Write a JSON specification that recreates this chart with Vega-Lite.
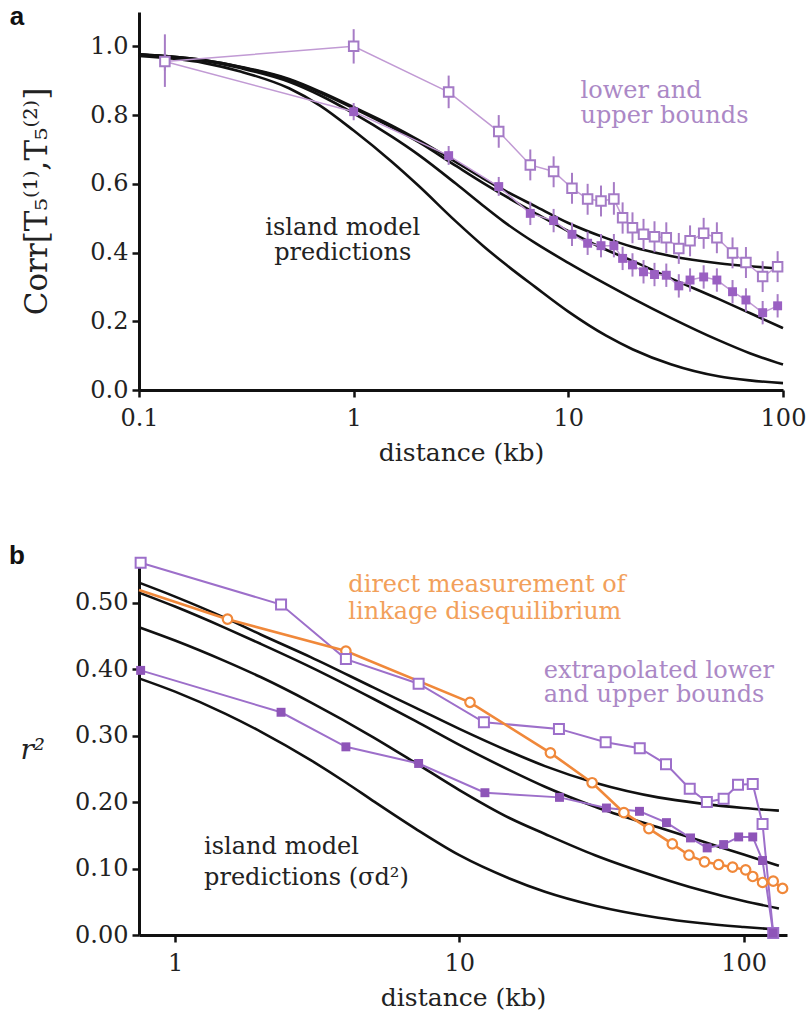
{
  "$schema": "https://vega.github.io/schema/vega-lite/v6.json",
  "background": "white",
  "padding": {"left": 8, "top": 4, "right": 5, "bottom": 2},
  "spacing": 78,
  "config": {
    "view": {"stroke": null},
    "font": "DejaVu Serif",
    "axis": {"grid": false, "domainColor": "#111", "domainWidth": 3, "tickColor": "#111", "tickWidth": 2.5, "tickSize": 7, "labelFont": "DejaVu Serif", "labelFontSize": 24, "labelColor": "#222", "labelPadding": 4, "titleFont": "DejaVu Serif", "titleFontSize": 25, "titleFontWeight": "normal", "titleColor": "#222"}
  },
  "datasets": {
    "curvesA": [
      {"model": "m1", "distance": 0.1, "value": 0.977}, {"model": "m1", "distance": 0.2, "value": 0.96}, {"model": "m1", "distance": 0.3, "value": 0.94}, {"model": "m1", "distance": 0.5, "value": 0.905}, {"model": "m1", "distance": 0.7, "value": 0.868}, {"model": "m1", "distance": 1, "value": 0.823}, {"model": "m1", "distance": 1.5, "value": 0.77}, {"model": "m1", "distance": 2, "value": 0.728}, {"model": "m1", "distance": 3, "value": 0.663}, {"model": "m1", "distance": 4, "value": 0.616}, {"model": "m1", "distance": 5, "value": 0.582}, {"model": "m1", "distance": 7, "value": 0.535}, {"model": "m1", "distance": 10, "value": 0.486}, {"model": "m1", "distance": 15, "value": 0.442}, {"model": "m1", "distance": 20, "value": 0.416}, {"model": "m1", "distance": 30, "value": 0.39}, {"model": "m1", "distance": 50, "value": 0.369}, {"model": "m1", "distance": 70, "value": 0.36}, {"model": "m1", "distance": 100, "value": 0.353},
      {"model": "m2", "distance": 0.1, "value": 0.977}, {"model": "m2", "distance": 0.2, "value": 0.96}, {"model": "m2", "distance": 0.3, "value": 0.939}, {"model": "m2", "distance": 0.5, "value": 0.903}, {"model": "m2", "distance": 0.7, "value": 0.865}, {"model": "m2", "distance": 1, "value": 0.82}, {"model": "m2", "distance": 1.5, "value": 0.765}, {"model": "m2", "distance": 2, "value": 0.722}, {"model": "m2", "distance": 3, "value": 0.652}, {"model": "m2", "distance": 4, "value": 0.603}, {"model": "m2", "distance": 5, "value": 0.567}, {"model": "m2", "distance": 7, "value": 0.515}, {"model": "m2", "distance": 10, "value": 0.462}, {"model": "m2", "distance": 15, "value": 0.408}, {"model": "m2", "distance": 20, "value": 0.375}, {"model": "m2", "distance": 30, "value": 0.325}, {"model": "m2", "distance": 50, "value": 0.265}, {"model": "m2", "distance": 70, "value": 0.224}, {"model": "m2", "distance": 100, "value": 0.18},
      {"model": "m3", "distance": 0.1, "value": 0.976}, {"model": "m3", "distance": 0.2, "value": 0.958}, {"model": "m3", "distance": 0.3, "value": 0.936}, {"model": "m3", "distance": 0.5, "value": 0.897}, {"model": "m3", "distance": 0.7, "value": 0.857}, {"model": "m3", "distance": 1, "value": 0.805}, {"model": "m3", "distance": 1.5, "value": 0.738}, {"model": "m3", "distance": 2, "value": 0.685}, {"model": "m3", "distance": 3, "value": 0.6}, {"model": "m3", "distance": 4, "value": 0.537}, {"model": "m3", "distance": 5, "value": 0.49}, {"model": "m3", "distance": 7, "value": 0.428}, {"model": "m3", "distance": 10, "value": 0.37}, {"model": "m3", "distance": 15, "value": 0.308}, {"model": "m3", "distance": 20, "value": 0.266}, {"model": "m3", "distance": 30, "value": 0.21}, {"model": "m3", "distance": 50, "value": 0.145}, {"model": "m3", "distance": 70, "value": 0.107}, {"model": "m3", "distance": 100, "value": 0.074},
      {"model": "m4", "distance": 0.1, "value": 0.972}, {"model": "m4", "distance": 0.2, "value": 0.952}, {"model": "m4", "distance": 0.3, "value": 0.926}, {"model": "m4", "distance": 0.5, "value": 0.878}, {"model": "m4", "distance": 0.7, "value": 0.827}, {"model": "m4", "distance": 1, "value": 0.755}, {"model": "m4", "distance": 1.5, "value": 0.665}, {"model": "m4", "distance": 2, "value": 0.595}, {"model": "m4", "distance": 3, "value": 0.49}, {"model": "m4", "distance": 4, "value": 0.42}, {"model": "m4", "distance": 5, "value": 0.37}, {"model": "m4", "distance": 7, "value": 0.3}, {"model": "m4", "distance": 10, "value": 0.228}, {"model": "m4", "distance": 15, "value": 0.158}, {"model": "m4", "distance": 20, "value": 0.118}, {"model": "m4", "distance": 30, "value": 0.075}, {"model": "m4", "distance": 50, "value": 0.04}, {"model": "m4", "distance": 70, "value": 0.028}, {"model": "m4", "distance": 100, "value": 0.02}
    ],
    "boundsA": [
      {"bound": "upper", "distance": 0.132, "value": 0.956, "lo": 0.882, "hi": 1.035},
      {"bound": "upper", "distance": 1.0, "value": 1.0, "lo": 0.95, "hi": 1.05},
      {"bound": "upper", "distance": 2.77, "value": 0.867, "lo": 0.82, "hi": 0.915},
      {"bound": "upper", "distance": 4.74, "value": 0.752, "lo": 0.705, "hi": 0.8},
      {"bound": "upper", "distance": 6.65, "value": 0.655, "lo": 0.61, "hi": 0.7},
      {"bound": "upper", "distance": 8.54, "value": 0.636, "lo": 0.59, "hi": 0.68},
      {"bound": "upper", "distance": 10.4, "value": 0.587, "lo": 0.542, "hi": 0.632},
      {"bound": "upper", "distance": 12.3, "value": 0.556, "lo": 0.51, "hi": 0.6},
      {"bound": "upper", "distance": 14.2, "value": 0.55, "lo": 0.505, "hi": 0.595},
      {"bound": "upper", "distance": 16.3, "value": 0.556, "lo": 0.51, "hi": 0.605},
      {"bound": "upper", "distance": 17.9, "value": 0.501, "lo": 0.455, "hi": 0.546},
      {"bound": "upper", "distance": 19.9, "value": 0.472, "lo": 0.427, "hi": 0.517},
      {"bound": "upper", "distance": 22.4, "value": 0.453, "lo": 0.408, "hi": 0.498},
      {"bound": "upper", "distance": 25.2, "value": 0.446, "lo": 0.401, "hi": 0.491},
      {"bound": "upper", "distance": 28.6, "value": 0.443, "lo": 0.398, "hi": 0.488},
      {"bound": "upper", "distance": 32.7, "value": 0.412, "lo": 0.367, "hi": 0.457},
      {"bound": "upper", "distance": 36.9, "value": 0.434, "lo": 0.389, "hi": 0.479},
      {"bound": "upper", "distance": 42.7, "value": 0.456, "lo": 0.411, "hi": 0.501},
      {"bound": "upper", "distance": 49.2, "value": 0.443, "lo": 0.398, "hi": 0.488},
      {"bound": "upper", "distance": 58.2, "value": 0.399, "lo": 0.354, "hi": 0.444},
      {"bound": "upper", "distance": 67.2, "value": 0.371, "lo": 0.326, "hi": 0.416},
      {"bound": "upper", "distance": 80.4, "value": 0.33, "lo": 0.285, "hi": 0.375},
      {"bound": "upper", "distance": 94.4, "value": 0.359, "lo": 0.314, "hi": 0.404},
      {"bound": "lower", "distance": 0.132, "value": 0.956, "lo": 0.93, "hi": 0.98},
      {"bound": "lower", "distance": 1.0, "value": 0.81, "lo": 0.785, "hi": 0.835},
      {"bound": "lower", "distance": 2.77, "value": 0.682, "lo": 0.655, "hi": 0.71},
      {"bound": "lower", "distance": 4.74, "value": 0.592, "lo": 0.565, "hi": 0.62},
      {"bound": "lower", "distance": 6.65, "value": 0.514, "lo": 0.48, "hi": 0.548},
      {"bound": "lower", "distance": 8.54, "value": 0.493, "lo": 0.459, "hi": 0.527},
      {"bound": "lower", "distance": 10.4, "value": 0.453, "lo": 0.419, "hi": 0.487},
      {"bound": "lower", "distance": 12.3, "value": 0.427, "lo": 0.393, "hi": 0.461},
      {"bound": "lower", "distance": 14.2, "value": 0.42, "lo": 0.386, "hi": 0.454},
      {"bound": "lower", "distance": 16.3, "value": 0.42, "lo": 0.386, "hi": 0.454},
      {"bound": "lower", "distance": 17.9, "value": 0.383, "lo": 0.349, "hi": 0.417},
      {"bound": "lower", "distance": 19.9, "value": 0.364, "lo": 0.33, "hi": 0.398},
      {"bound": "lower", "distance": 22.4, "value": 0.344, "lo": 0.31, "hi": 0.378},
      {"bound": "lower", "distance": 25.2, "value": 0.336, "lo": 0.302, "hi": 0.37},
      {"bound": "lower", "distance": 28.6, "value": 0.334, "lo": 0.3, "hi": 0.368},
      {"bound": "lower", "distance": 32.7, "value": 0.303, "lo": 0.269, "hi": 0.337},
      {"bound": "lower", "distance": 36.9, "value": 0.32, "lo": 0.286, "hi": 0.354},
      {"bound": "lower", "distance": 42.7, "value": 0.329, "lo": 0.295, "hi": 0.363},
      {"bound": "lower", "distance": 49.2, "value": 0.32, "lo": 0.286, "hi": 0.354},
      {"bound": "lower", "distance": 58.2, "value": 0.286, "lo": 0.252, "hi": 0.32},
      {"bound": "lower", "distance": 67.2, "value": 0.262, "lo": 0.228, "hi": 0.296},
      {"bound": "lower", "distance": 80.4, "value": 0.225, "lo": 0.191, "hi": 0.259},
      {"bound": "lower", "distance": 94.4, "value": 0.245, "lo": 0.211, "hi": 0.279}
    ],
    "curvesB": [
      {"model": "m1", "distance": 0.747, "value": 0.53}, {"model": "m1", "distance": 1, "value": 0.509}, {"model": "m1", "distance": 1.5, "value": 0.477}, {"model": "m1", "distance": 2, "value": 0.452}, {"model": "m1", "distance": 3, "value": 0.418}, {"model": "m1", "distance": 5, "value": 0.372}, {"model": "m1", "distance": 7, "value": 0.342}, {"model": "m1", "distance": 10, "value": 0.31}, {"model": "m1", "distance": 15, "value": 0.276}, {"model": "m1", "distance": 20, "value": 0.254}, {"model": "m1", "distance": 30, "value": 0.229}, {"model": "m1", "distance": 50, "value": 0.207}, {"model": "m1", "distance": 70, "value": 0.198}, {"model": "m1", "distance": 100, "value": 0.191}, {"model": "m1", "distance": 133, "value": 0.187},
      {"model": "m2", "distance": 0.747, "value": 0.515}, {"model": "m2", "distance": 1, "value": 0.494}, {"model": "m2", "distance": 1.5, "value": 0.462}, {"model": "m2", "distance": 2, "value": 0.438}, {"model": "m2", "distance": 3, "value": 0.403}, {"model": "m2", "distance": 5, "value": 0.355}, {"model": "m2", "distance": 7, "value": 0.322}, {"model": "m2", "distance": 10, "value": 0.286}, {"model": "m2", "distance": 15, "value": 0.248}, {"model": "m2", "distance": 20, "value": 0.223}, {"model": "m2", "distance": 30, "value": 0.193}, {"model": "m2", "distance": 50, "value": 0.162}, {"model": "m2", "distance": 70, "value": 0.142}, {"model": "m2", "distance": 100, "value": 0.121}, {"model": "m2", "distance": 133, "value": 0.104},
      {"model": "m3", "distance": 0.747, "value": 0.463}, {"model": "m3", "distance": 1, "value": 0.443}, {"model": "m3", "distance": 1.5, "value": 0.412}, {"model": "m3", "distance": 2, "value": 0.388}, {"model": "m3", "distance": 3, "value": 0.35}, {"model": "m3", "distance": 5, "value": 0.297}, {"model": "m3", "distance": 7, "value": 0.259}, {"model": "m3", "distance": 10, "value": 0.218}, {"model": "m3", "distance": 15, "value": 0.176}, {"model": "m3", "distance": 20, "value": 0.152}, {"model": "m3", "distance": 30, "value": 0.12}, {"model": "m3", "distance": 50, "value": 0.087}, {"model": "m3", "distance": 70, "value": 0.068}, {"model": "m3", "distance": 100, "value": 0.051}, {"model": "m3", "distance": 133, "value": 0.04},
      {"model": "m4", "distance": 0.747, "value": 0.386}, {"model": "m4", "distance": 1, "value": 0.366}, {"model": "m4", "distance": 1.5, "value": 0.333}, {"model": "m4", "distance": 2, "value": 0.306}, {"model": "m4", "distance": 3, "value": 0.263}, {"model": "m4", "distance": 4, "value": 0.229}, {"model": "m4", "distance": 5, "value": 0.201}, {"model": "m4", "distance": 7, "value": 0.16}, {"model": "m4", "distance": 10, "value": 0.12}, {"model": "m4", "distance": 15, "value": 0.085}, {"model": "m4", "distance": 20, "value": 0.065}, {"model": "m4", "distance": 30, "value": 0.044}, {"model": "m4", "distance": 50, "value": 0.026}, {"model": "m4", "distance": 70, "value": 0.018}, {"model": "m4", "distance": 100, "value": 0.012}, {"model": "m4", "distance": 133, "value": 0.008}
    ],
    "boundsB": [
      {"bound": "upper", "distance": 0.757, "value": 0.56},
      {"bound": "upper", "distance": 2.36, "value": 0.497},
      {"bound": "upper", "distance": 3.99, "value": 0.415},
      {"bound": "upper", "distance": 7.19, "value": 0.378},
      {"bound": "upper", "distance": 12.2, "value": 0.32},
      {"bound": "upper", "distance": 22.4, "value": 0.31},
      {"bound": "upper", "distance": 32.7, "value": 0.29},
      {"bound": "upper", "distance": 43.1, "value": 0.281},
      {"bound": "upper", "distance": 53.3, "value": 0.257},
      {"bound": "upper", "distance": 64.6, "value": 0.22},
      {"bound": "upper", "distance": 74.2, "value": 0.2},
      {"bound": "upper", "distance": 85, "value": 0.205},
      {"bound": "upper", "distance": 95.5, "value": 0.226},
      {"bound": "upper", "distance": 107.6, "value": 0.227},
      {"bound": "upper", "distance": 116.5, "value": 0.167},
      {"bound": "upper", "distance": 127, "value": 0.003},
      {"bound": "lower", "distance": 0.757, "value": 0.398},
      {"bound": "lower", "distance": 2.36, "value": 0.335},
      {"bound": "lower", "distance": 3.99, "value": 0.283},
      {"bound": "lower", "distance": 7.19, "value": 0.258},
      {"bound": "lower", "distance": 12.3, "value": 0.214},
      {"bound": "lower", "distance": 22.5, "value": 0.207},
      {"bound": "lower", "distance": 32.9, "value": 0.191},
      {"bound": "lower", "distance": 43, "value": 0.186},
      {"bound": "lower", "distance": 53.5, "value": 0.169},
      {"bound": "lower", "distance": 65, "value": 0.146},
      {"bound": "lower", "distance": 74.4, "value": 0.131},
      {"bound": "lower", "distance": 85, "value": 0.136},
      {"bound": "lower", "distance": 96, "value": 0.1475},
      {"bound": "lower", "distance": 107.6, "value": 0.1475},
      {"bound": "lower", "distance": 116.5, "value": 0.112},
      {"bound": "lower", "distance": 127, "value": 0.003}
    ],
    "ldB": [
      {"distance": 0.747, "value": 0.519},
      {"distance": 1.53, "value": 0.475},
      {"distance": 3.99, "value": 0.427},
      {"distance": 10.9, "value": 0.35},
      {"distance": 20.9, "value": 0.274},
      {"distance": 29.3, "value": 0.229},
      {"distance": 37.9, "value": 0.184},
      {"distance": 46.4, "value": 0.16},
      {"distance": 56.1, "value": 0.137},
      {"distance": 64.2, "value": 0.12},
      {"distance": 72.8, "value": 0.11},
      {"distance": 81.6, "value": 0.106},
      {"distance": 91.4, "value": 0.102},
      {"distance": 101.6, "value": 0.098},
      {"distance": 107.6, "value": 0.088},
      {"distance": 116.5, "value": 0.079},
      {"distance": 127, "value": 0.081},
      {"distance": 137, "value": 0.07}
    ]
  },
  "vconcat": [
    {
      "width": 644,
      "height": 378,
      "encoding": {
        "x": {"field": "distance", "type": "quantitative", "scale": {"type": "log", "domain": [0.1, 100], "nice": false}, "axis": {"values": [0.1, 1, 10, 100], "format": "~g", "title": "distance (kb)", "labelFlush": false, "labelPadding": 9, "titlePadding": 10}},
        "y": {"field": "value", "type": "quantitative", "scale": {"domain": [0, 1.1], "nice": false, "zero": false}, "axis": {"values": [0, 0.2, 0.4, 0.6, 0.8, 1.0], "format": ".1f", "title": "Corr[T₅⁽¹⁾,T₅⁽²⁾]", "titleFontSize": 31, "titlePadding": 36}}
      },
      "layer": [
        {"data": {"name": "curvesA"}, "mark": {"type": "line", "color": "#111", "strokeWidth": 2.6, "interpolate": "monotone"}, "encoding": {"detail": {"field": "model"}}},
        {"data": {"name": "boundsA"}, "mark": {"type": "line", "color": "#c19ad4", "strokeWidth": 1.5}, "encoding": {"detail": {"field": "bound"}}},
        {"data": {"name": "boundsA"}, "mark": {"type": "rule", "color": "#a77cc6", "strokeWidth": 2},
         "encoding": {
           "y": {"field": "lo", "type": "quantitative", "scale": {"domain": [0, 1.1], "nice": false, "zero": false}, "axis": {"values": [0, 0.2, 0.4, 0.6, 0.8, 1.0], "format": ".1f", "title": "Corr[T₅⁽¹⁾,T₅⁽²⁾]", "titleFontSize": 31, "titlePadding": 36}},
           "y2": {"field": "hi"}}},
        {"data": {"name": "boundsA"}, "transform": [{"filter": "datum.bound === 'lower'"}], "mark": {"type": "point", "shape": "square", "filled": true, "color": "#9a60c2", "size": 80, "opacity": 1}},
        {"data": {"name": "boundsA"}, "transform": [{"filter": "datum.bound === 'upper'"}], "mark": {"type": "point", "shape": "square", "filled": false, "fill": "white", "fillOpacity": 1, "stroke": "#a47ac6", "strokeWidth": 2, "size": 90, "opacity": 1}},
        {"data": {"values": [{"distance": 11.4, "value": 0.87, "label": "lower and\nupper bounds"}]}, "mark": {"type": "text", "align": "left", "baseline": "middle", "lineBreak": "\n", "lineHeight": 25, "fontSize": 24, "font": "DejaVu Serif", "color": "#ab88c6"}, "encoding": {"text": {"field": "label"}}},
        {"data": {"values": [{"distance": 0.889, "value": 0.47, "label": "island model\npredictions"}]}, "mark": {"type": "text", "align": "center", "baseline": "middle", "lineBreak": "\n", "lineHeight": 25, "fontSize": 24, "font": "DejaVu Serif", "color": "#222"}, "encoding": {"text": {"field": "label"}}},
        {"data": {"values": [{"distance": 0.027, "value": 1.085, "label": "a"}]}, "mark": {"type": "text", "align": "center", "baseline": "middle", "fontSize": 26, "font": "Liberation Sans", "fontWeight": "bold", "color": "#111"}, "encoding": {"text": {"field": "label"}}}
      ]
    },
    {
      "width": 648,
      "height": 369,
      "encoding": {
        "x": {"field": "distance", "type": "quantitative", "scale": {"type": "log", "domain": [0.747, 142], "nice": false}, "axis": {"values": [1, 10, 100], "format": "~g", "title": "distance (kb)", "labelFlush": false, "labelPadding": 9, "titlePadding": 10}},
        "y": {"field": "value", "type": "quantitative", "scale": {"domain": [0, 0.555], "nice": false, "zero": false}, "axis": {"values": [0, 0.1, 0.2, 0.3, 0.4, 0.5], "format": ".2f", "title": "r²", "titleAngle": 0, "titleAlign": "right", "titleBaseline": "middle", "titleFontStyle": "italic", "titleFontSize": 28, "titlePadding": 30}}
      },
      "layer": [
        {"data": {"name": "curvesB"}, "mark": {"type": "line", "color": "#111", "strokeWidth": 2.6, "interpolate": "monotone"}, "encoding": {"detail": {"field": "model"}}},
        {"data": {"name": "boundsB"}, "mark": {"type": "line", "color": "#9d6fca", "strokeWidth": 2}, "encoding": {"detail": {"field": "bound"}}},
        {"data": {"name": "ldB"}, "mark": {"type": "line", "color": "#f0883a", "strokeWidth": 2.6}},
        {"data": {"name": "ldB"}, "transform": [{"filter": "datum.distance > 1"}], "mark": {"type": "point", "shape": "circle", "filled": false, "fill": "white", "fillOpacity": 1, "stroke": "#f0883a", "strokeWidth": 2.2, "size": 90, "opacity": 1}},
        {"data": {"name": "boundsB"}, "transform": [{"filter": "datum.bound === 'upper'"}], "mark": {"type": "point", "shape": "square", "filled": false, "fill": "white", "fillOpacity": 1, "stroke": "#9d6fca", "strokeWidth": 2, "size": 100, "opacity": 1}},
        {"data": {"name": "boundsB"}, "transform": [{"filter": "datum.bound === 'lower'"}], "mark": {"type": "point", "shape": "square", "filled": true, "color": "#8e55b8", "size": 80, "opacity": 1}},
        {"data": {"values": [{"distance": 4.07, "value": 0.527, "label": "direct measurement of\nlinkage disequilibrium"}]}, "mark": {"type": "text", "align": "left", "baseline": "middle", "lineBreak": "\n", "lineHeight": 27, "fontSize": 24, "font": "DejaVu Serif", "color": "#f2a05a"}, "encoding": {"text": {"field": "label"}}},
        {"data": {"values": [{"distance": 19.8, "value": 0.397, "label": "extrapolated lower\nand upper bounds"}]}, "mark": {"type": "text", "align": "left", "baseline": "middle", "lineBreak": "\n", "lineHeight": 24, "fontSize": 24, "font": "DejaVu Serif", "color": "#ab88c6"}, "encoding": {"text": {"field": "label"}}},
        {"data": {"values": [{"distance": 1.265, "value": 0.133, "label": "island model\npredictions (σd²)"}]}, "mark": {"type": "text", "align": "left", "baseline": "middle", "lineBreak": "\n", "lineHeight": 31, "fontSize": 24, "font": "DejaVu Serif", "color": "#222"}, "encoding": {"text": {"field": "label"}}},
        {"data": {"values": [{"distance": 0.278, "value": 0.57, "label": "b"}]}, "mark": {"type": "text", "align": "center", "baseline": "middle", "fontSize": 26, "font": "Liberation Sans", "fontWeight": "bold", "color": "#111"}, "encoding": {"text": {"field": "label"}}}
      ]
    }
  ]
}
